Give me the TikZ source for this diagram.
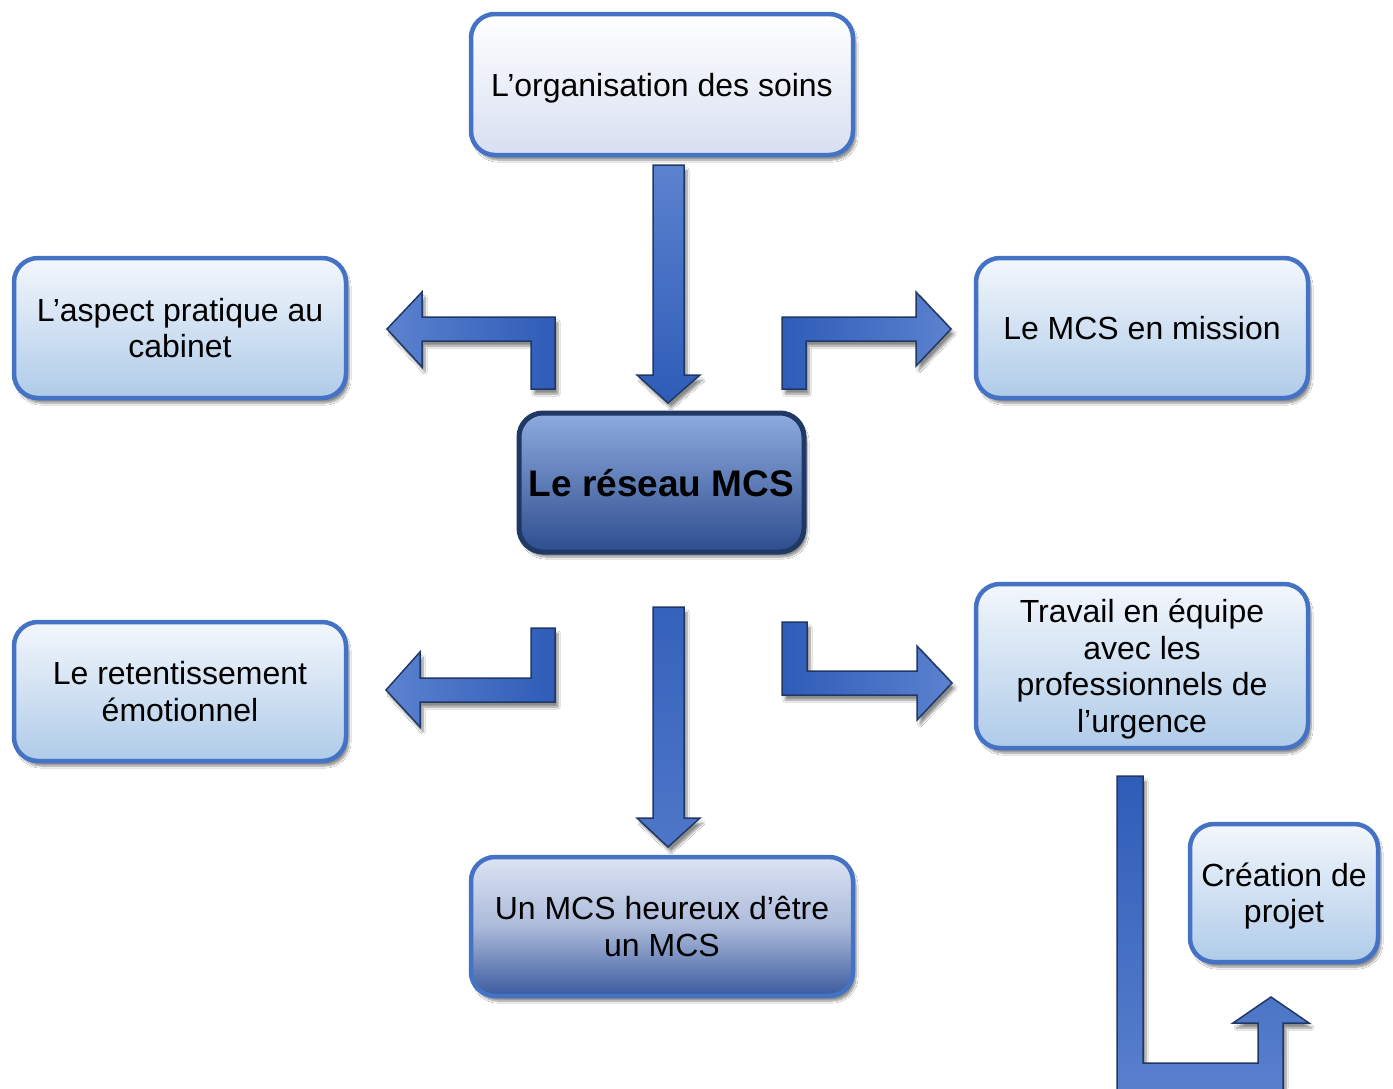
\documentclass[tikz,border=0pt]{standalone}
\usepackage{fontspec}
\setmainfont{Liberation Sans}
\usetikzlibrary{shadows.blur}
\newcommand\myTopStrut{\rule{0pt}{31pt}}
\definecolor{boxborder}{HTML}{4472C4}
\definecolor{darkborder}{HTML}{1F3864}
\definecolor{lighttop}{HTML}{F3F7FC}
\definecolor{lightbot}{HTML}{AFCBE9}
\definecolor{lavbot}{HTML}{D7DFF1}
\definecolor{ctrtop}{HTML}{8EABDF}
\definecolor{ctrbot}{HTML}{2E4D8E}
\definecolor{btmtop}{HTML}{DCE3F3}
\definecolor{btmbot}{HTML}{3A5A9E}
\definecolor{arrlight}{HTML}{5C82CF}
\definecolor{arrdark}{HTML}{2E5CB8}
\tikzset{
  boxshadow/.style={blur shadow={shadow xshift=3pt, shadow yshift=-5pt, shadow blur steps=8, shadow opacity=45}},
  basebox/.style={rounded corners=24pt, line width=4.5pt, draw=boxborder, align=center,
    font=\fontsize{32}{36.5}\selectfont, inner sep=0pt, boxshadow, text depth=8pt},
  lightbox/.style={basebox, top color=lighttop, bottom color=lightbot},
  lavbox/.style={basebox, top color=white, bottom color=lavbot},
  btmbox/.style={basebox, top color=btmtop, bottom color=btmbot, middle color=btmtop!70!btmbot},
  ctrbox/.style={basebox, draw=darkborder, line width=5pt, top color=ctrtop, bottom color=ctrbot,
    font=\fontsize{37}{42}\selectfont\bfseries, text height=36pt},
  blockarrow/.style={draw=darkborder, line width=1.5pt, line join=miter, boxshadow},
}
\begin{document}
\begin{tikzpicture}[x=1pt,y=-1pt]
\clip (0,0) rectangle (1393,1088);
\fill[white] (0,0) rectangle (1393,1088);

% block arrows
\draw[blockarrow, top color=arrlight, bottom color=arrdark]
  (653,165) -- (684,165) -- (684,375) -- (700,375) -- (668,403) -- (637,375) -- (653,375) -- cycle;
\draw[blockarrow, left color=arrlight, right color=arrdark]
  (555,389) -- (531,389) -- (531,341) -- (422,341) -- (422,367) -- (387,329) -- (422,292) -- (422,317) -- (555,317) -- cycle;
\draw[blockarrow, left color=arrdark, right color=arrlight]
  (782,389) -- (806,389) -- (806,341) -- (916,341) -- (916,366) -- (951,329) -- (916,292) -- (916,317) -- (782,317) -- cycle;
\draw[blockarrow, top color=arrdark!85!arrlight, bottom color=arrlight!70!arrdark]
  (653,607) -- (684,607) -- (684,818) -- (700,818) -- (668,847) -- (637,818) -- (653,818) -- cycle;
\draw[blockarrow, left color=arrlight, right color=arrdark]
  (531,628) -- (555,628) -- (555,702) -- (420,702) -- (420,727) -- (386,690) -- (420,652) -- (420,678) -- (531,678) -- cycle;
\draw[blockarrow, left color=arrdark, right color=arrlight]
  (782,622) -- (807,622) -- (807,671) -- (917,671) -- (917,646) -- (952,683) -- (917,720) -- (917,695) -- (782,695) -- cycle;
\draw[blockarrow, top color=arrdark, bottom color=arrlight]
  (1117,776) -- (1143,776) -- (1143,1063) -- (1258,1063) -- (1258,1023) -- (1233,1023) -- (1271,997) -- (1309,1023) -- (1283,1023) -- (1283,1110) -- (1117,1110) -- cycle;

% boxes
\node[lavbox, minimum width=382pt, minimum height=141pt] (soins) at (662,84.5) {\myTopStrut L’organisation des soins};
\node[lightbox, minimum width=332pt, minimum height=140pt] (cabinet) at (180,328) {\myTopStrut L’aspect pratique au\\cabinet};
\node[lightbox, minimum width=332pt, minimum height=140pt] (mission) at (1142,328) {\myTopStrut Le MCS en mission};
\node[ctrbox, minimum width=285pt, minimum height=139pt] (reseau) at (661.5,482.5) {Le réseau MCS};
\node[lightbox, minimum width=332pt, minimum height=139pt] (emotion) at (180,691.5) {\myTopStrut Le retentissement\\émotionnel};
\node[lightbox, minimum width=332pt, minimum height=164pt] (equipe) at (1142,666) {\myTopStrut Travail en équipe\\avec les\\professionnels de\\l’urgence};
\node[btmbox, minimum width=382pt, minimum height=139pt] (heureux) at (662,926.5) {\myTopStrut Un MCS heureux d’être\\un MCS};
\node[lightbox, minimum width=188pt, minimum height=138pt] (projet) at (1284,893) {\myTopStrut Création de\\projet};
\end{tikzpicture}
\end{document}
